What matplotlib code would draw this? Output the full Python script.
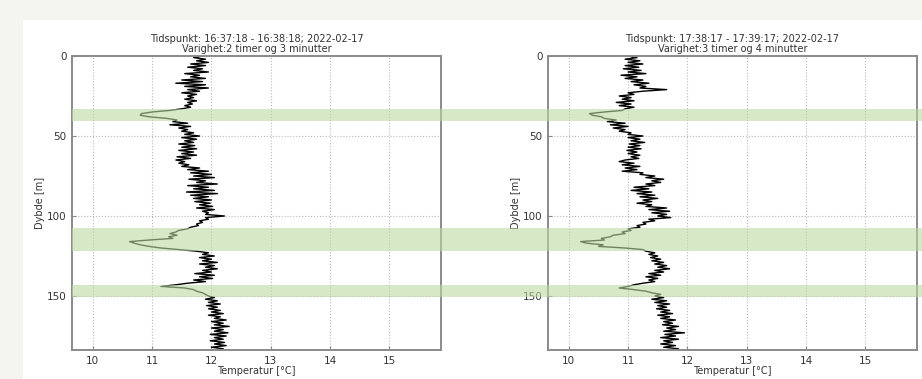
import numpy as np
import matplotlib.pyplot as plt
from matplotlib.patches import Rectangle
from matplotlib.transforms import blended_transform_factory

# Depth in metres, one reading per metre
depth = np.arange(0, 185)

temp_1 = [
    11.85, 11.7, 11.9, 11.75, 11.95, 11.65, 11.9, 11.6, 11.85, 11.7,
    11.95, 11.55, 11.8, 11.65, 11.9, 11.5, 11.85, 11.4, 11.9, 11.55,
    11.95, 11.6, 11.8, 11.5, 11.75, 11.6, 11.7, 11.55, 11.75, 11.6,
    11.68, 11.55, 11.65, 11.5, 11.3, 11.0, 10.82, 10.8, 10.95, 11.25,
    11.42, 11.35, 11.6, 11.3, 11.65, 11.45, 11.6, 11.5, 11.7, 11.55,
    11.8, 11.5, 11.75, 11.55, 11.7, 11.45, 11.72, 11.5, 11.75, 11.45,
    11.7, 11.5, 11.75, 11.42, 11.65, 11.4, 11.55, 11.45, 11.62, 11.5,
    11.8, 11.6, 11.95, 11.65, 12.0, 11.7, 12.05, 11.62, 11.9, 11.75,
    12.1, 11.6, 11.95, 11.7, 12.05, 11.58, 12.1, 11.65, 11.95, 11.7,
    12.0, 11.72, 11.98, 11.8, 12.02, 11.75, 12.05, 11.85, 11.95, 11.9,
    12.22, 11.9, 11.95, 11.8, 11.85, 11.75, 11.78, 11.65, 11.6, 11.45,
    11.4, 11.3, 11.42, 11.28, 11.35, 10.95, 10.62, 10.7, 10.8, 10.95,
    11.15, 11.45, 11.75, 11.95, 11.85, 12.05, 11.8, 12.0, 11.85, 12.1,
    11.8, 12.05, 11.9, 12.1, 11.85, 12.0, 11.72, 12.05, 11.8, 12.02,
    11.7, 11.9, 11.6, 11.4, 11.15, 11.55, 11.7, 11.75, 11.85, 11.9,
    11.95, 12.05, 11.9, 12.1, 11.95, 12.15, 11.92, 12.1, 11.95, 12.15,
    12.0, 12.2, 11.95, 12.15, 12.05, 12.25, 12.0, 12.2, 12.05, 12.3,
    12.0, 12.2, 12.05, 12.28, 11.98, 12.25, 12.05, 12.2, 11.98, 12.22,
    12.05, 12.25, 12.0, 12.2, 12.1,
]

temp_2 = [
    11.0, 11.15, 10.95, 11.2, 11.0, 11.25, 10.95, 11.18, 10.92, 11.22,
    11.0, 11.3, 10.88, 11.15, 10.95, 11.25, 11.05, 11.35, 11.1, 11.3,
    11.2, 11.65, 11.25, 11.0, 11.1, 10.85, 11.05, 10.9, 11.1, 10.8,
    11.05, 10.85, 11.1, 10.95, 10.9, 10.6, 10.35, 10.4, 10.55, 10.6,
    10.8, 10.65, 10.95, 10.7, 11.0, 10.75, 10.95, 10.85, 11.05, 11.0,
    11.25, 11.0, 11.2, 11.05, 11.28, 11.02, 11.2, 11.0, 11.22, 10.98,
    11.15, 11.0, 11.2, 11.05, 11.18, 10.95, 10.85, 11.1, 10.9, 11.2,
    10.95, 11.15, 10.9, 11.25, 11.2, 11.45, 11.3, 11.6, 11.4, 11.55,
    11.3, 11.45, 11.1, 11.35, 11.05, 11.4, 11.15, 11.45, 11.2, 11.5,
    11.25, 11.4, 11.15, 11.4, 11.3, 11.65, 11.35, 11.7, 11.4, 11.65,
    11.5, 11.72, 11.35, 11.45, 11.25, 11.3, 11.15, 11.2, 11.0, 11.05,
    10.9, 10.95, 10.75, 10.7, 10.55, 10.6, 10.2, 10.3, 10.58, 10.5,
    10.95, 11.25, 11.3, 11.45, 11.35, 11.5, 11.38, 11.55, 11.4, 11.6,
    11.45, 11.65, 11.5, 11.7, 11.45, 11.6, 11.35, 11.55, 11.3, 11.5,
    11.35, 11.45, 11.25, 11.1, 11.0, 10.85, 11.1, 11.3, 11.4, 11.55,
    11.45, 11.6, 11.4, 11.65, 11.45, 11.7, 11.5, 11.65, 11.48, 11.7,
    11.55, 11.75, 11.5, 11.7, 11.55, 11.8, 11.6, 11.75, 11.58, 11.85,
    11.65, 11.8, 11.6, 11.95, 11.62, 11.8, 11.55, 11.85, 11.6, 11.75,
    11.55, 11.8, 11.6, 11.85, 11.7,
]

titles = [
    "Tidspunkt: 16:37:18 - 16:38:18; 2022-02-17\nVarighet:2 timer og 3 minutter",
    "Tidspunkt: 17:38:17 - 17:39:17; 2022-02-17\nVarighet:3 timer og 4 minutter",
]

# Depth intervals (top, bottom) that are highlighted across both profiles
zones = [(33.3, 40.4), (107.5, 122.0), (143.0, 150.6)]

x_ticks = [10, 11, 12, 13, 14, 15]
y_ticks = [0, 50, 100, 150]

W, H = 922, 379
fig = plt.figure(figsize=(W / 100, H / 100), dpi=100, facecolor='#f4f5ef')
# white plotting sheet
fig.add_artist(Rectangle((23 / W, 0), 1 - 23 / W, 1 - 20 / H,
                         transform=fig.transFigure, facecolor='white',
                         edgecolor='none', zorder=-10))

positions = [
    [72 / W, 1 - 350 / H, 369 / W, 294 / H],
    [548 / W, 1 - 350 / H, 369 / W, 294 / H],
]

text_col = '#333333'
axes = []
for pos, temps, title in zip(positions, [temp_1, temp_2], titles):
    ax = fig.add_axes(pos)
    ax.plot(temps, depth, color='black', linewidth=1.0)
    ax.set_xlim(9.65, 15.87)
    ax.set_ylim(183.75, 0)
    ax.set_xticks(x_ticks)
    ax.set_yticks(y_ticks)
    ax.grid(True, color='#b8b8b8', linestyle=':', linewidth=0.8)
    ax.set_title(title, fontsize=7, pad=3, linespacing=1.0, color=text_col)
    ax.set_xlabel('Temperatur [°C]', fontsize=7, labelpad=0, color=text_col)
    ax.set_ylabel('Dybde [m]', fontsize=7, labelpad=1, color=text_col)
    ax.tick_params(labelsize=7.5, direction='in', length=3, color='#888888',
                   labelcolor=text_col, pad=4)
    for s in ax.spines.values():
        s.set_color('#8a8a8a')
        s.set_linewidth(1.4)
    axes.append(ax)

# highlight bands run from the left profile to the right edge of the figure
trans = blended_transform_factory(fig.transFigure, axes[0].transData)
for top, bottom in zones:
    fig.add_artist(Rectangle((72 / W, top), 1 - 72 / W, bottom - top,
                             transform=trans, facecolor='#bbd9a0',
                             edgecolor='none', alpha=0.6, zorder=5))

fig.savefig('out.png', dpi=100, facecolor=fig.get_facecolor())
